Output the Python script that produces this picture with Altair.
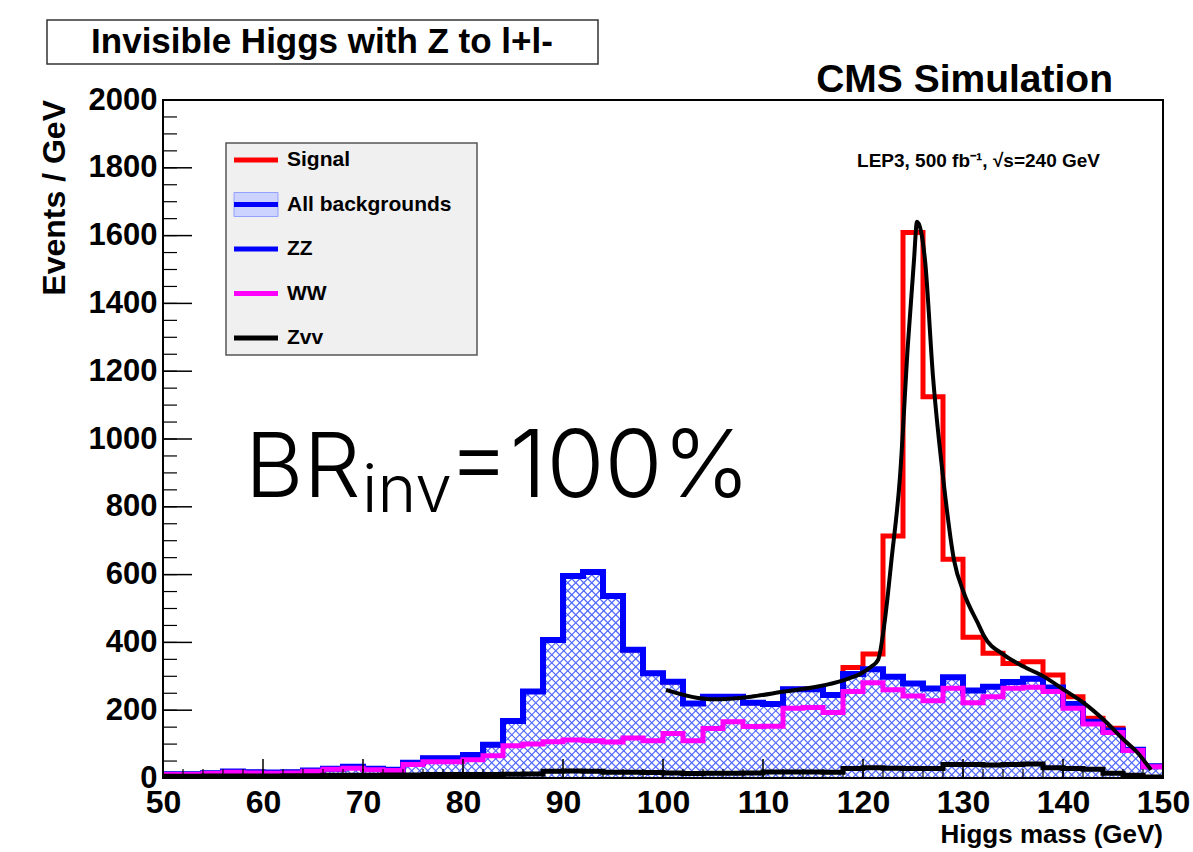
import altair as alt
import numpy as np
import pandas as pd

# ---------------- data ----------------
bin_low = list(range(50, 150, 2))          # 2 GeV bins, lower edges
all_bkg = [11, 11, 14, 19, 17, 16, 17, 22, 27, 33,
           27, 24, 45, 58, 58, 68, 98, 168, 255, 407,
           596, 608, 537, 378, 309, 284, 220, 240, 240, 222,
           218, 262, 262, 245, 307, 321, 299, 279, 264, 297,
           258, 269, 283, 293, 267, 218, 166, 140, 83, 35]
ww = [10, 10, 13, 17, 15, 14, 15, 20, 26, 29,
      24, 22, 40, 48, 48, 54, 66, 95, 100, 107,
      112, 110, 106, 118, 110, 131, 110, 146, 166, 152,
      153, 206, 208, 193, 255, 281, 260, 242, 228, 265,
      222, 240, 265, 268, 255, 206, 159, 134, 81, 33]
zvv = [5, 5, 6, 6, 6, 6, 7, 7, 8, 8,
       8, 9, 9, 10, 10, 10, 10, 11, 12, 20,
       21, 20, 17, 17, 16, 15, 13, 14, 14, 15,
       18, 18, 18, 17, 28, 30, 29, 28, 28, 40,
       40, 38, 40, 41, 30, 28, 26, 14, 8, 3]
signal = [0, 0, 0, 0, 0, 0, 0, 0, 0, 0,
          0, 0, 0, 0, 0, 0, 0, 0, 0, 0,
          0, 0, 0, 0, 0, 0, 0, 0, 0, 0,
          0, 0, 0, 0, 19, 45, 415, 1330, 861, 348,
          157, 99, 55, 50, 37, 22, 10, 7, 0, 0]
fit_x = [100.3, 103.5, 105.0, 108.8, 112.1, 115.5, 118.1, 119.8, 120.8, 121.5,
         122.1, 122.5, 122.8, 123.7, 124.5, 125.1, 125.4, 126.2, 127.0, 128.0,
         129.1, 130.1, 131.5, 132.1, 134.1, 136.1, 138.1, 140.1, 142.1, 144.1,
         146.1, 147.5, 148.8]
fit_y = [260, 236, 232, 240, 255, 270, 289, 308, 328, 348,
         446, 545, 630, 889, 1283, 1528, 1641, 1528, 1184, 889,
         643, 545, 456, 419, 363, 328, 299, 260, 221, 171,
         112, 73, 24]
x_major = [50, 60, 70, 80, 90, 100, 110, 120, 130, 140, 150]
y_major = [0, 200, 400, 600, 800, 1000, 1200, 1400, 1600, 1800, 2000]
legend_labels = ["Signal", "All backgrounds", "ZZ", "WW", "Zvv"]
legend_colors = ["#ff0000", "#0000ff", "#0000ff", "#ff00ff", "#000000"]

# ---------------- layout ----------------
W, H = 1000, 678
XMIN, XMAX, YMIN, YMAX = 50, 150, 0, 2000
FONT = "Liberation Sans"
HATCH = "#4f66ff"

xs = alt.Scale(domain=[XMIN, XMAX], nice=False, zero=False)
ys = alt.Scale(domain=[YMIN, YMAX], nice=False, zero=False)
x_axis = alt.Axis(values=x_major, format="d", title=None, grid=False, ticks=False,
                  domain=False, labelFont=FONT, labelFontWeight="bold", labelFontSize=32,
                  labelColor="black", labelPadding=9, labelFlush=False, labelOverlap=False)
y_axis = alt.Axis(values=y_major, format="d", title=None, grid=False, ticks=False,
                  domain=False, labelFont=FONT, labelFontWeight="bold", labelFontSize=31,
                  labelColor="black", labelPadding=6, labelFlush=False, labelOverlap=False)


def X(f="x"):
    return alt.X(f"{f}:Q", scale=xs, axis=x_axis)


def Y(f="y"):
    return alt.Y(f"{f}:Q", scale=ys, axis=y_axis)


def step_df(vals):
    return pd.DataFrame({"x": bin_low + [XMAX], "y": list(vals) + [vals[-1]]})


bkg_df = step_df(all_bkg)
bkg_df["top"] = YMAX
red_vals = [b + s for b, s in zip(all_bkg, signal)]

# hatch texture (45 degree lines in pixel space)
ppg = W / (XMAX - XMIN)
ppu = H / (YMAX - YMIN)
vt = 680.0
dx = vt * ppu / ppg
sp = 0.8
h1 = np.arange(XMIN - dx, XMAX + sp, sp)
h2 = np.arange(XMIN, XMAX + dx + sp, sp)
hatch_df = pd.DataFrame({
    "x": np.concatenate([h1, h2]),
    "x2": np.concatenate([h1 + dx, h2 - dx]),
    "y": 0.0,
    "y2": vt,
})

hatch = alt.Chart(hatch_df).mark_rule(color=HATCH, strokeWidth=1.2, clip=True).encode(
    x=X(), x2="x2:Q", y=Y(), y2="y2:Q")
cover = alt.Chart(bkg_df).mark_area(interpolate="step-after", color="white", opacity=1,
                                    clip=True).encode(x=X(), y=Y(), y2="top:Q")
red = alt.Chart(step_df(red_vals)).mark_line(interpolate="step-after", color="#ff0000",
                                              strokeWidth=5, clip=True).encode(x=X(), y=Y())
blue = alt.Chart(step_df(all_bkg)).mark_line(interpolate="step-after", color="#0000ff",
                                             strokeWidth=6, clip=True).encode(x=X(), y=Y())
mag = alt.Chart(step_df(ww)).mark_line(interpolate="step-after", color="#ff00ff",
                                       strokeWidth=5, clip=True).encode(x=X(), y=Y())
zline = alt.Chart(step_df(zvv)).mark_line(interpolate="step-after", color="black",
                                          strokeWidth=5, clip=True).encode(x=X(), y=Y())
fit = alt.Chart(pd.DataFrame({"x": fit_x, "y": fit_y})).mark_line(
    interpolate="monotone", color="black", strokeWidth=4, clip=True).encode(x=X(), y=Y())

# ticks (inward, ROOT style)
xmaj = alt.Chart(pd.DataFrame({"x": x_major})).mark_rule(color="black", strokeWidth=1.5).encode(
    x=X(), y=alt.value(H), y2=alt.value(H - 19))
xmin_df = pd.DataFrame({"x": list(range(XMIN, XMAX + 1, 2))})
xmin_r = alt.Chart(xmin_df).mark_rule(color="black", strokeWidth=1.2).encode(
    x=X(), y=alt.value(H), y2=alt.value(H - 9))
ymaj = alt.Chart(pd.DataFrame({"y": y_major})).mark_rule(color="black", strokeWidth=1.5).encode(
    y=Y(), x=alt.value(0), x2=alt.value(29))
ymin_r = alt.Chart(pd.DataFrame({"y": list(range(YMIN, YMAX + 1, 50))})).mark_rule(
    color="black", strokeWidth=1.2).encode(y=Y(), x=alt.value(0), x2=alt.value(14))

one = pd.DataFrame({"a": [0]})
frame = alt.Chart(one).mark_rect(fillOpacity=0, stroke="black", strokeWidth=2).encode(
    x=alt.value(0), x2=alt.value(W), y=alt.value(0), y2=alt.value(H))

# legend
leg_df = pd.DataFrame({"name": legend_labels, "col": legend_colors,
                       "ly": [60 + 44.5 * i for i in range(len(legend_labels))]})
leg_box = alt.Chart(one).mark_rect(fill="#f0f0f0", stroke="#555555", strokeWidth=1.5).encode(
    x=alt.value(63), x2=alt.value(314), y=alt.value(43), y2=alt.value(255))
leg_hatch = alt.Chart(pd.DataFrame({"y1": [leg_df.ly[1] - 12], "y2": [leg_df.ly[1] + 12]})).mark_rect(
    fill="#cdd3ff", stroke="#8090ff", strokeWidth=0.8).encode(
    x=alt.value(71), x2=alt.value(115), y=alt.Y("y1:Q", scale=None, axis=None), y2="y2:Q")
leg_lines = alt.Chart(leg_df).mark_rule(strokeWidth=5).encode(
    x=alt.value(71), x2=alt.value(115), y=alt.Y("ly:Q", scale=None, axis=None),
    color=alt.Color("col:N", scale=None, legend=None))
leg_text = alt.Chart(leg_df).mark_text(align="left", baseline="middle", font=FONT,
                                       fontSize=21, fontWeight="bold", color="black").encode(
    x=alt.value(124), y=alt.Y("ly:Q", scale=None, axis=None), text="name:N")


def txt(s, x, y, **kw):
    return alt.Chart(pd.DataFrame({"t": [s]})).mark_text(**kw).encode(
        x=alt.value(x), y=alt.value(y), text="t:N")


title_box = alt.Chart(one).mark_rect(fill="white", stroke="#333333", strokeWidth=1.5).encode(
    x=alt.value(-116), x2=alt.value(435), y=alt.value(-80), y2=alt.value(-36))
title_t = txt("Invisible Higgs with Z to l+l-", 159, -58, align="center", baseline="middle",
              font=FONT, fontSize=35, fontWeight="bold", color="black")
cms_t = txt("CMS Simulation", 950, -8, align="right", baseline="alphabetic", font=FONT,
            fontSize=39, fontWeight="bold", color="black")
lep_t = txt("LEP3, 500 fb\u207b\u00b9,  \u221as=240 GeV", 937, 67, align="right",
            baseline="alphabetic", font=FONT, fontSize=19, fontWeight="bold", color="black")
br1 = txt("BR", 82, 397, align="left", baseline="alphabetic", font="Inter", fontSize=90,
          fontWeight=300, color="black")
br2 = txt("inv", 199, 412, align="left", baseline="alphabetic", font="Inter", fontSize=66,
          fontWeight=300, color="black")
br3 = txt("=100%", 285, 397, align="left", baseline="alphabetic", font="Inter", fontSize=94,
          fontWeight=300, color="black")
xtitle = txt("Higgs mass (GeV)", W, 65 + H, align="right", baseline="alphabetic", font=FONT,
             fontSize=26, fontWeight="bold", color="black")
ytitle = txt("Events / GeV", -98, 0, align="right", baseline="alphabetic", angle=270,
             font=FONT, fontSize=32, fontWeight="bold", color="black")

chart = alt.layer(
    hatch, cover, red, blue, mag, zline, fit,
    xmin_r, xmaj, ymin_r, ymaj, frame,
    leg_box, leg_hatch, leg_lines, leg_text,
    title_box, title_t, cms_t, lep_t, br1, br2, br3, xtitle, ytitle,
).properties(
    width=W, height=H,
    padding={"left": 163, "top": 100, "right": 30, "bottom": 74},
    autosize=alt.AutoSizeParams(type="none"),
    background="white",
).configure_view(stroke=None)

chart.save("out.html", embed_options={"renderer": "svg", "actions": False})
